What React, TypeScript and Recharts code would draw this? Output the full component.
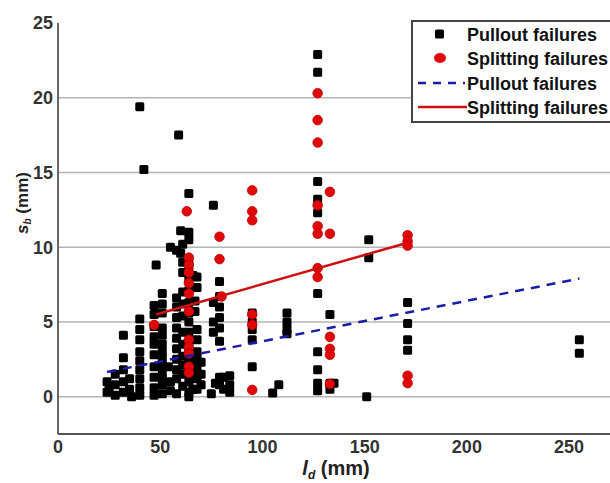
import React from "react";
import { ScatterChart, Scatter, XAxis, YAxis, CartesianGrid } from "recharts";

// l_d (mm) vs s_b (mm)
const xTicks = [0, 50, 100, 150, 200, 250];
const yTicks = [0, 5, 10, 15, 20, 25];
const gridLevels = [0, 5, 10, 15, 20];

const pulloutPoints: [number, number][] = [
  [24, 1.0], [24, 0.3], [25, 0.6],
  [28, 1.5], [28, 0.8], [28, 0.1],
  [32, 4.1], [32, 2.6], [32, 1.8], [32, 1.0], [32, 0.3],
  [35, 1.2], [35, 0.5], [36, 0.0],
  [40, 19.4], [40, 5.2], [40, 4.5], [40, 3.8], [40, 3.0], [40, 2.4], [40, 1.8], [40, 1.2], [40, 0.6], [40, 0.1],
  [42, 15.2],
  [48, 8.8], [47, 6.1], [47, 5.5], [47, 4.7], [47, 4.0], [47, 3.5], [47, 2.8], [47, 2.0], [47, 1.3], [47, 0.6], [47, 0.1],
  [51, 6.9], [51, 6.2], [51, 5.6], [51, 4.6], [51, 4.1], [51, 3.5], [51, 3.0], [51, 2.6], [51, 2.1], [51, 1.6], [51, 1.2], [51, 0.8], [51, 0.2],
  [55, 10.0], [54, 2.0], [55, 1.0], [55, 0.4],
  [59, 17.5], [60, 11.1], [60, 9.6], [58, 9.8], [58, 6.6], [58, 6.0], [58, 5.3], [58, 4.6], [58, 3.9], [58, 3.2], [58, 2.5], [58, 1.8], [58, 1.2], [58, 0.2],
  [61, 10.2], [61, 9.0], [61, 8.3], [61, 7.0], [61, 6.2], [61, 5.4], [61, 4.3], [61, 3.5], [61, 2.7], [61, 2.1], [61, 1.5], [61, 0.7],
  [64, 13.6], [64, 11.0], [64, 10.5], [64, 9.0], [64, 8.4], [64, 7.8], [64, 7.1], [64, 6.3], [64, 5.6], [64, 5.0], [64, 4.3], [64, 3.6], [64, 3.0], [64, 2.5], [64, 1.8], [64, 1.0], [64, 0.3], [64, 0.0],
  [66, 8.1], [67, 6.4], [67, 5.7], [66, 2.2], [66, 1.5], [66, 0.5],
  [68, 8.0], [68, 7.3], [68, 4.5], [68, 3.8], [68, 3.0], [68, 2.6], [68, 2.0], [68, 1.2], [68, 0.5],
  [70, 2.3], [70, 1.5], [70, 0.8],
  [76, 12.8], [76, 6.3], [76, 5.0], [76, 4.3], [77, 0.9], [75, 0.2],
  [79, 7.7], [79, 6.7], [79, 6.0], [79, 5.3], [79, 4.6], [79, 3.7], [79, 1.3], [79, 0.8],
  [81, 1.3], [81, 0.5],
  [84, 1.4], [84, 0.8], [84, 0.3],
  [95, 5.6], [95, 5.0], [95, 4.5], [95, 3.8], [95, 2.0],
  [105, 0.25], [108, 0.8],
  [112, 5.6], [112, 5.0], [112, 4.5], [112, 4.2],
  [127, 22.9], [127, 21.7], [127, 14.4], [127, 13.2], [127, 12.3], [127, 6.9], [127, 3.0], [127, 1.8], [127, 0.9], [127, 0.4],
  [133, 5.5], [133, 0.9], [135, 0.9], [133, 0.5],
  [152, 10.5], [152, 9.3], [151, 0.0],
  [171, 6.3], [171, 4.9], [171, 3.8], [171, 3.1],
  [255, 3.8], [255, 2.9],
];

const splittingPoints: [number, number][] = [
  [47, 4.8],
  [63, 12.4], [64, 9.3], [64, 8.8], [64, 8.3], [64, 7.6], [64, 6.9], [64, 5.7], [64, 3.8], [64, 3.3], [64, 2.9], [64, 2.0], [64, 1.6],
  [79, 10.7], [79, 9.2], [80, 6.7],
  [95, 13.8], [95, 12.4], [95, 11.8], [95, 5.5], [95, 4.8], [95, 0.45],
  [127, 20.3], [127, 18.5], [127, 17.0], [127, 12.8], [127, 11.4], [127, 10.9], [127, 8.6], [127, 8.0],
  [133, 13.7], [133, 10.9], [133, 4.0], [133, 3.2], [133, 2.8], [133, 0.85],
  [171, 10.8], [171, 10.4], [171, 10.1], [171, 1.4], [171, 0.9],
];

// fitted trend lines (end points)
const pulloutFit: [number, number][] = [[24, 1.65], [255, 7.9]];
const splittingFit: [number, number][] = [[48, 5.5], [171, 10.3]];

const legendLabels = ["Pullout failures", "Splitting failures", "Pullout failures", "Splitting failures"];

const toXY = (pts: [number, number][]) => pts.map(([x, y]) => ({ x, y }));

const BLUE = "#1c1ca6";
const RED = "#e00808";
const FONT = "'Liberation Sans', Arial, sans-serif";

const Square = (props: any) => (
  <rect x={props.cx - 4.5} y={props.cy - 4.5} width={9} height={9} rx={1.5} fill="#000" />
);

const Dot = (props: any) => (
  <circle cx={props.cx} cy={props.cy} r={4.8} fill={RED} stroke="#c00000" strokeWidth={0.8} />
);

const NoShape = () => <g />;

const YTitle = () => {
  const cx = 22;
  const cy = 203;
  return (
    <text
      x={cx}
      y={cy}
      transform={`rotate(-90 ${cx} ${cy})`}
      textAnchor="middle"
      dominantBaseline="central"
      fontSize={17}
      fontWeight="bold"
      fill="#222"
      fontFamily={FONT}
    >
      <tspan fontStyle="italic">s</tspan>
      <tspan fontStyle="italic" fontSize={10} dy={5}>b</tspan>
      <tspan dy={-5}> (mm)</tspan>
    </text>
  );
};

const XTitle = () => (
  <text x={336} y={475} textAnchor="middle" fontSize={20} fontWeight="bold" fill="#222" fontFamily={FONT}>
    <tspan fontStyle="italic">l</tspan>
    <tspan fontStyle="italic" fontSize={12} dy={4}>d</tspan>
    <tspan dy={-4}> (mm)</tspan>
  </text>
);

function LegendBox() {
  const rows = [14, 38, 63, 87];
  return (
    <svg
      width={200}
      height={104}
      style={{ position: "absolute", left: 411, top: 20, overflow: "visible" }}
    >
      <rect x={1} y={1} width={260} height={101} fill="#fff" stroke="#444" strokeWidth={2} />
      <rect x={24} y={rows[0] - 4.5} width={9} height={9} rx={1.5} fill="#000" />
      <ellipse cx={29} cy={rows[1]} rx={6} ry={5} fill={RED} />
      <line x1={7} x2={54} y1={rows[2]} y2={rows[2]} stroke={BLUE} strokeWidth={2.5} strokeDasharray="8 7" />
      <line x1={7} x2={56} y1={rows[3]} y2={rows[3]} stroke="#cc1010" strokeWidth={2.5} />
      {legendLabels.map((label, i) => (
        <text
          key={i}
          x={56}
          y={rows[i] + 6.5}
          fontSize={18}
          fontWeight="bold"
          fill="#111"
          fontFamily={FONT}
        >
          {label}
        </text>
      ))}
    </svg>
  );
}

export default function App() {
  return (
    <div
      style={{
        position: "absolute",
        left: 0,
        top: 0,
        width: 610,
        height: 483,
        overflow: "hidden",
        background: "#fff",
        fontFamily: FONT,
      }}
    >
      <ScatterChart width={610} height={483} margin={{ top: 23, right: 0, bottom: 0, left: 18 }}>
        <CartesianGrid vertical={false} horizontalValues={gridLevels} stroke="#b4b4b4" strokeWidth={1.5} />
        <XAxis
          dataKey="x"
          type="number"
          domain={[0, 270]}
          ticks={xTicks}
          allowDataOverflow
          height={49}
          tickSize={4}
          tickMargin={2}
          axisLine={{ stroke: "#555", strokeWidth: 2 }}
          tickLine={false}
          tick={{ fill: "#333", fontSize: 18, fontWeight: "bold", fontFamily: FONT }}
        />
        <YAxis
          dataKey="y"
          type="number"
          domain={[-2.5, 25]}
          ticks={yTicks}
          allowDataOverflow
          width={40}
          tickSize={3}
          tickMargin={2}
          axisLine={{ stroke: "#666", strokeWidth: 2 }}
          tickLine={false}
          tick={{ fill: "#333", fontSize: 18, fontWeight: "bold", fontFamily: FONT }}
        />
        <Scatter data={toXY(pulloutPoints)} shape={Square} isAnimationActive={false} />
        <Scatter data={toXY(splittingPoints)} shape={Dot} isAnimationActive={false} />
        <Scatter
          data={toXY(pulloutFit)}
          shape={NoShape}
          line={{ stroke: BLUE, strokeWidth: 2.5, strokeDasharray: "9 7" }}
          isAnimationActive={false}
        />
        <Scatter
          data={toXY(splittingFit)}
          shape={NoShape}
          line={{ stroke: "#cc1010", strokeWidth: 2.5 }}
          isAnimationActive={false}
        />
        <YTitle />
        <XTitle />
      </ScatterChart>
      <LegendBox />
    </div>
  );
}
